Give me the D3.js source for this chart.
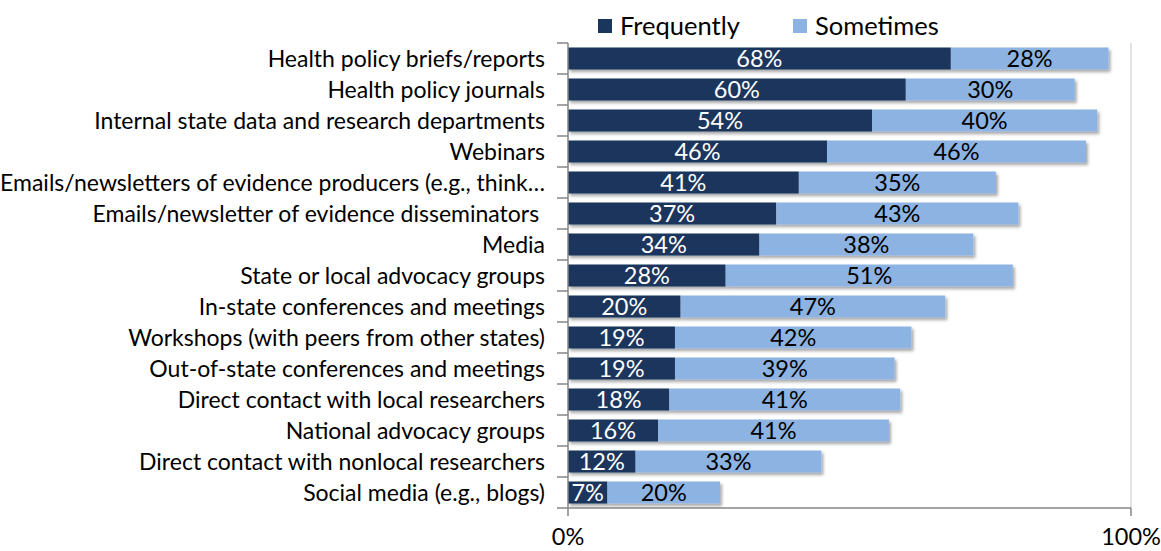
<!DOCTYPE html>
<html><head><meta charset="utf-8">
<script src="https://cdn.jsdelivr.net/npm/d3@7"></script>
<style>body{margin:0;background:#fff;} text{font-family:Lato, "Open Sans", sans-serif;}</style>
</head><body><svg id="c" width="1161" height="551"></svg>
<script>
const categories = ["Health policy briefs/reports","Health policy journals","Internal state data and research departments","Webinars","Emails/newsletters of evidence producers (e.g., think…","Emails/newsletter of evidence disseminators\u00a0","Media","State or local advocacy groups","In-state conferences and meetings","Workshops (with peers from other states)","Out-of-state conferences and meetings","Direct contact with local researchers","National advocacy groups","Direct contact with nonlocal researchers","Social media (e.g., blogs)"];
const frequently = [68,60,54,46,41,37,34,28,20,19,19,18,16,12,7];
const sometimes = [28,30,40,46,35,43,38,51,47,42,39,41,41,33,20];
const seriesNames = ["Frequently","Sometimes"];
const xTicks = [0,100];
const colors = ["#1b365d","#8db3e2"];

const svg = d3.select("#c");
const L = 568, R = 1131, T = 43, B = 508;
const x = d3.scaleLinear().domain([0,100]).range([L,R]);
const y = d3.scaleBand().domain(categories).range([T,B]).paddingInner(0.29).paddingOuter(0.145);

const defs = svg.append("defs");
const f = defs.append("filter").attr("id","sh").attr("x","-5%").attr("y","-30%").attr("width","115%").attr("height","180%");
f.append("feDropShadow").attr("dx",2).attr("dy",2.5).attr("stdDeviation",1.8).attr("flood-color","#000").attr("flood-opacity",0.35);

svg.append("line").attr("x1",R).attr("x2",R).attr("y1",T).attr("y2",B).attr("stroke","#d9d9d9").attr("stroke-width",1.5);

const data = categories.map((c,i)=>({cat:c, f:frequently[i], s:sometimes[i]}));
const g = svg.append("g");
data.forEach(d=>{
  const gg = g.append("g").attr("filter","url(#sh)");
  gg.append("rect").attr("x",x(0)).attr("y",y(d.cat)).attr("width",x(d.f)-x(0)).attr("height",y.bandwidth()).attr("fill",colors[0]);
  gg.append("rect").attr("x",x(d.f)).attr("y",y(d.cat)).attr("width",x(d.f+d.s)-x(d.f)).attr("height",y.bandwidth()).attr("fill",colors[1]);
});
data.forEach(d=>{
  const cy = y(d.cat)+y.bandwidth()/2;
  g.append("text").attr("x",(x(0)+x(d.f))/2).attr("y",cy).attr("dy","0.36em").attr("text-anchor","middle")
    .attr("fill","#fff").attr("font-size",23.5).text(d.f+"%");
  g.append("text").attr("x",(x(d.f)+x(d.f+d.s))/2).attr("y",cy).attr("dy","0.36em").attr("text-anchor","middle")
    .attr("fill","#000").attr("font-size",23.5).text(d.s+"%");
});

const ya = svg.append("g").attr("transform",`translate(${L},0)`);
ya.append("line").attr("x1",0).attr("x2",0).attr("y1",T).attr("y2",B).attr("stroke","#868686").attr("stroke-width",1.5);
d3.range(categories.length+1).forEach(i=>{
  const yy = T + i*(B-T)/categories.length;
  ya.append("line").attr("x1",-11).attr("x2",0).attr("y1",yy).attr("y2",yy).attr("stroke","#868686").attr("stroke-width",1.5);
});
categories.forEach(c=>{
  ya.append("text").attr("x",-23).attr("y",y(c)+y.bandwidth()/2).attr("dy","0.36em").attr("text-anchor","end")
    .attr("font-size",23).attr("fill","#000").text(c);
});

const xa = svg.append("g").attr("transform",`translate(0,${B})`);
xa.append("line").attr("x1",L).attr("x2",R).attr("stroke","#868686").attr("stroke-width",1.5);
xTicks.forEach(t=>{
  xa.append("line").attr("x1",x(t)).attr("x2",x(t)).attr("y1",0).attr("y2",8).attr("stroke","#868686").attr("stroke-width",1.5);
  xa.append("text").attr("x",x(t)).attr("y",29).attr("dy","0.36em").attr("text-anchor","middle").attr("font-size",23.5).text(t+"%");
});

const lg = svg.append("g");
const lx = [598, 793];
seriesNames.forEach((s,i)=>{
  lg.append("rect").attr("x",lx[i]).attr("y",19).attr("width",14).attr("height",14).attr("fill",colors[i]);
  lg.append("text").attr("x",lx[i]+22).attr("y",26).attr("dy","0.36em").attr("font-size",25.5).text(s);
});
</script></body></html>
